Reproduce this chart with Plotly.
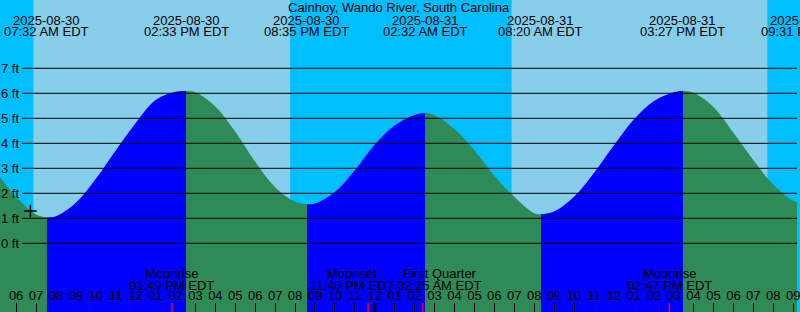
import plotly.graph_objects as go
import pandas as pd

# ---------------- data ----------------
title = "Cainhoy, Wando River, South Carolina"

curve_times = [
    "2025-08-30 05:00", "2025-08-30 06:00", "2025-08-30 07:00", "2025-08-30 07:32",
    "2025-08-30 08:00", "2025-08-30 09:00", "2025-08-30 10:00", "2025-08-30 11:00",
    "2025-08-30 12:00", "2025-08-30 13:00", "2025-08-30 14:00", "2025-08-30 14:33",
    "2025-08-30 15:00", "2025-08-30 16:00", "2025-08-30 17:00", "2025-08-30 18:00",
    "2025-08-30 19:00", "2025-08-30 20:00", "2025-08-30 20:35", "2025-08-30 21:00",
    "2025-08-30 22:00", "2025-08-30 23:00", "2025-08-31 00:00", "2025-08-31 01:00",
    "2025-08-31 02:00", "2025-08-31 02:32", "2025-08-31 03:00", "2025-08-31 04:00",
    "2025-08-31 05:00", "2025-08-31 06:00", "2025-08-31 07:00", "2025-08-31 08:00",
    "2025-08-31 08:20", "2025-08-31 09:00", "2025-08-31 10:00", "2025-08-31 11:00",
    "2025-08-31 12:00", "2025-08-31 13:00", "2025-08-31 14:00", "2025-08-31 15:00",
    "2025-08-31 15:27", "2025-08-31 16:00", "2025-08-31 17:00", "2025-08-31 18:00",
    "2025-08-31 19:00", "2025-08-31 20:00", "2025-08-31 21:00", "2025-08-31 21:31",
]
curve_heights = [
    2.85, 1.85, 1.15, 1.04,
    1.08, 1.62, 2.58, 3.71,
    4.81, 5.73, 6.06, 6.09,
    6.04, 5.47, 4.46, 3.26,
    2.24, 1.66, 1.56, 1.59,
    2.05, 2.92, 3.95, 4.71,
    5.13, 5.21, 5.12, 4.57,
    3.72, 2.70, 1.86, 1.20,
    1.16, 1.27, 1.86, 2.81,
    3.91, 4.95, 5.68, 6.04,
    6.09, 6.02, 5.45, 4.42,
    3.33, 2.35, 1.70, 1.62,
]

extreme_times = ["2025-08-30 07:32", "2025-08-30 14:33", "2025-08-30 20:35",
                 "2025-08-31 02:32", "2025-08-31 08:20", "2025-08-31 15:27",
                 "2025-08-31 21:31"]
extreme_kind = ["L", "H", "L", "H", "L", "H", "L"]
extreme_date_labels = ["2025-08-30", "2025-08-30", "2025-08-30", "2025-08-31",
                       "2025-08-31", "2025-08-31", "2025-08-31"]
extreme_time_labels = ["07:32 AM EDT", "02:33 PM EDT", "08:35 PM EDT", "02:32 AM EDT",
                       "08:20 AM EDT", "03:27 PM EDT", "09:31 PM EDT"]

sunrise_times = ["2025-08-30 06:52", "2025-08-31 06:52"]
sunset_times = ["2025-08-30 19:46", "2025-08-31 19:43"]

moon_times = ["2025-08-30 13:49", "2025-08-30 23:40", "2025-08-31 02:25", "2025-08-31 14:47"]
moon_names = ["Moonrise", "Moonset", "First Quarter", "Moonrise"]
moon_labels = ["01:49 PM EDT", "11:40 PM EDT", "02:25 AM EDT", "02:47 PM EDT"]

midnight_times = ["2025-08-31 00:00"]

now_time = ["2025-08-30 06:43"]
now_height = [1.29]

y_ticks = [0, 1, 2, 3, 4, 5, 6, 7]
y_tick_labels = ["0 ft", "1 ft", "2 ft", "3 ft", "4 ft", "5 ft", "6 ft", "7 ft"]

x_range = ["2025-08-30 05:11:30", "2025-08-31 21:11:30"]
y_range = [-2.748, 9.732]

# ---------------- styles ----------------
W, H = 800, 312
DAY = "#87CEEB"
NIGHT = "#00BFFF"
RISING = "#0000FF"
FALLING = "#2E8B57"
FONT = "Liberation Sans, Arial, sans-serif"
FS = 13
TXT = "#000000"
moon_label_shift = [0, -16, 17, 0]   # labels nudged apart where they would collide

ts = pd.to_datetime(curve_times)
t0, t1 = ts.min(), ts.max()
rx0, rx1 = pd.Timestamp(x_range[0]), pd.Timestamp(x_range[1])


def frac(t):
    return float((pd.Timestamp(t) - t0) / (t1 - t0))


# colorscale with hard stops at each extreme: rising (after low) blue, falling green
color = FALLING if extreme_kind[0] == "L" else RISING
scale = [[0.0, color]]
for t, k in zip(extreme_times, extreme_kind):
    f = frac(t)
    if f <= 0 or f >= 1:
        continue
    scale.append([f, color])
    color = RISING if k == "L" else FALLING
    scale.append([f, color])
scale.append([1.0, color])

fig = go.Figure()

# baseline for the fill
fig.add_trace(go.Scatter(x=[curve_times[0], curve_times[-1]], y=[y_range[0] - 2, y_range[0] - 2],
                         mode="lines", line=dict(width=0, color="rgba(0,0,0,0)"),
                         showlegend=False, hoverinfo="skip"))
fig.add_trace(go.Scatter(x=curve_times, y=curve_heights, mode="lines",
                         line=dict(width=0, shape="spline", color="rgba(0,0,0,0)"),
                         fill="tonexty", fillcolor=FALLING,
                         fillgradient=dict(type="horizontal", colorscale=scale),
                         showlegend=False, hoverinfo="skip"))
fig.add_trace(go.Scatter(x=now_time, y=now_height, mode="markers",
                         marker=dict(symbol="cross-thin", size=9,
                                     line=dict(width=1.5, color="black")),
                         showlegend=False, hoverinfo="skip"))

shapes = []
# sky: night / day bands
edges = [x_range[0]]
for sr, ss in zip(sunrise_times, sunset_times):
    edges += [sr, ss]
edges.append(x_range[1])
for i in range(len(edges) - 1):
    shapes.append(dict(type="rect", xref="x", yref="paper", x0=edges[i], x1=edges[i + 1],
                       y0=0, y1=1, fillcolor=NIGHT if i % 2 == 0 else DAY,
                       line=dict(width=0), layer="below"))
# horizontal foot lines
for v in y_ticks:
    shapes.append(dict(type="line", xref="paper", yref="y", x0=22 / W, x1=1, y0=v, y1=v,
                       line=dict(color="black", width=1), layer="above"))
# midnight tick
for t in midnight_times:
    shapes.append(dict(type="line", xref="x", yref="paper", x0=t, x1=t, y0=0, y1=9 / H,
                       line=dict(color="black", width=3), layer="above"))
# moon event ticks
for t in moon_times:
    shapes.append(dict(type="line", xref="x", yref="paper", x0=t, x1=t, y0=0, y1=9 / H,
                       line=dict(color="#FF0000", width=1.5), layer="above"))

annotations = []


def px_y(py):
    return 1 - py / H


annotations.append(dict(text=title, xref="paper", yref="paper", x=0.5, y=px_y(7.5),
                        xanchor="center", yanchor="middle", showarrow=False,
                        font=dict(family=FONT, size=FS, color=TXT)))

for t, d, tl in zip(extreme_times, extreme_date_labels, extreme_time_labels):
    tt = pd.Timestamp(t)
    xp = float((tt - rx0) / (rx1 - rx0))
    for txt, py in ((d, 20.0), (tl, 31.6)):
        annotations.append(dict(text=txt, xref="paper", yref="paper", x=xp, y=px_y(py),
                                xanchor="center", yanchor="middle", showarrow=False,
                                font=dict(family=FONT, size=FS, color=TXT)))

for t, n, tl, sh in zip(moon_times, moon_names, moon_labels, moon_label_shift):
    for txt, py in ((n, 273.6), (tl, 285.6)):
        annotations.append(dict(text=txt, xref="x", yref="paper", x=t, y=px_y(py),
                                xanchor="center", yanchor="middle", showarrow=False,
                                xshift=sh,
                                font=dict(family=FONT, size=FS, color=TXT)))

for v, lab in zip(y_ticks, y_tick_labels):
    annotations.append(dict(text=lab, xref="paper", yref="y", x=21 / W, y=v,
                            xanchor="right", yanchor="middle", showarrow=False,
                            font=dict(family=FONT, size=FS, color=TXT)))

fig.update_layout(
    width=W, height=H, margin=dict(l=0, r=0, t=0, b=0, pad=0),
    paper_bgcolor=NIGHT, plot_bgcolor=NIGHT,
    shapes=shapes, annotations=annotations, showlegend=False,
    xaxis=dict(type="date", range=x_range, showgrid=False, zeroline=False,
               tick0="2025-08-30 00:00", dtick=3600000, tickformat="%I",
               ticks="inside", ticklen=9, tickwidth=1, tickcolor="black",
               ticklabelposition="inside", ticklabeloverflow="allow", showline=False,
               tickfont=dict(family=FONT, size=FS, color=TXT)),
    yaxis=dict(range=y_range, showgrid=False, zeroline=False, showticklabels=False,
               ticks=""),
)

fig.write_html("out.html")
